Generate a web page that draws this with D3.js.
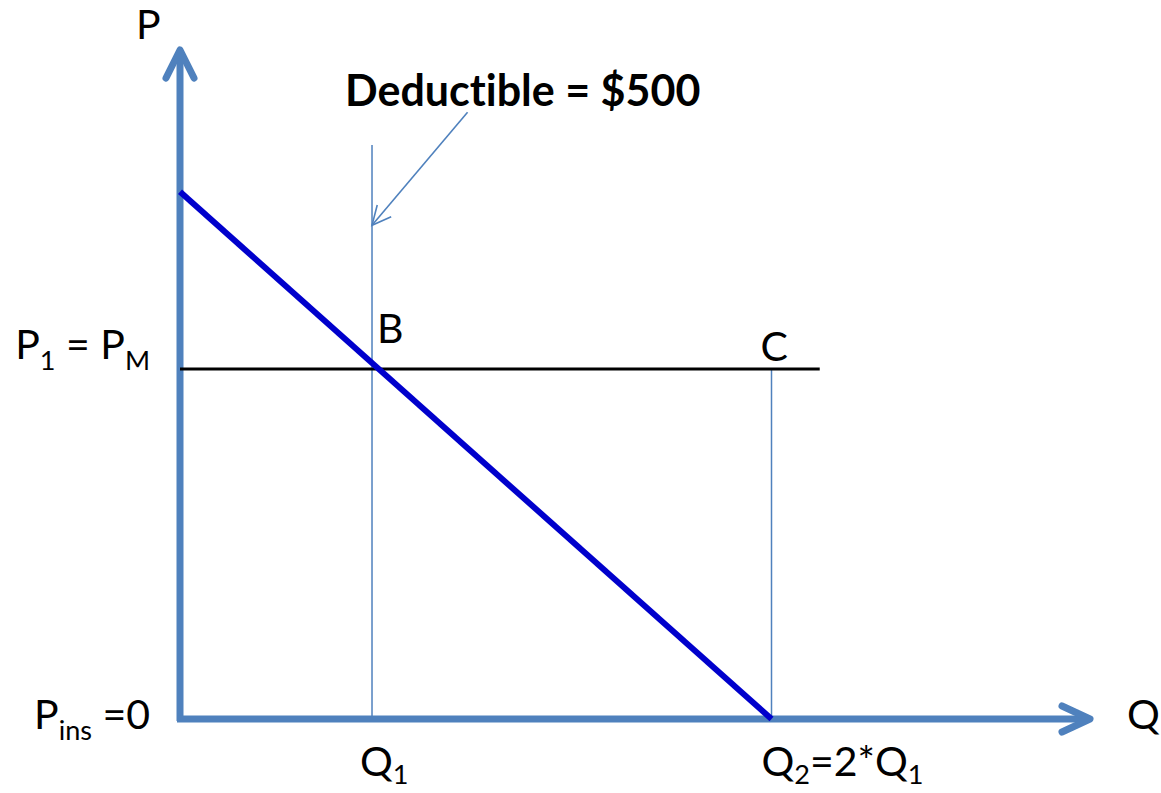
<!DOCTYPE html>
<html><head><meta charset="utf-8">
<script src="https://cdn.jsdelivr.net/npm/d3@7"></script>
<style>html,body{margin:0;padding:0;background:#fff;}svg{display:block;}text{font-variant-ligatures:none;font-feature-settings:"liga" 0;}</style>
</head><body>
<svg id="c" width="1161" height="793"></svg>
<script>
// ---- data (chart units: Q and P on 0..100 scales) ----
const axisMax = {q: 100, p: 100};
const demand = [{q: 0, p: 78.8}, {q: 65.0, p: 0}];
const priceLine = [{q: 0, p: 52.3}, {q: 70.3, p: 52.3}];
const deductibleLine = [{q: 21.1, p: 0}, {q: 21.1, p: 85.8}];
const q2Line = [{q: 65.0, p: 0}, {q: 65.0, p: 52.3}];
const calloutArrow = [{q: 31.6, p: 90.7}, {q: 21.1, p: 73.8}];
const axisLabels = ["P", "Q"];
const pTickLabels = [{p: 52.3, parts: [["P", 0], ["1", 1], [" = P", 0], ["M", 1]]},
                     {p: 0, parts: [["P", 0], ["ins", 1], [" =0", 0]]}];
const qTickLabels = [{q: 21.1, parts: [["Q", 0], ["1", 1]]},
                     {q: 65.0, parts: [["Q", 0], ["2", 1], ["=2*Q", 0], ["1", 1]]}];
const pointLabels = [{name: "B", q: 21.1, p: 52.3}, {name: "C", q: 65.0, p: 52.3}];
const calloutText = "Deductible = $500";

// ---- scales ----
const x = d3.scaleLinear().domain([0, axisMax.q]).range([180, 1090]);
const y = d3.scaleLinear().domain([0, axisMax.p]).range([719, 50]);
const svg = d3.select("#c");
const FONT = "Lato, 'Open Sans', sans-serif";
const AXC = "#4F81BD";
const line = d3.line().x(d => x(d.q)).y(d => y(d.p));

// thin guide lines
svg.append("path").attr("d", line(deductibleLine)).attr("stroke", AXC).attr("stroke-width", 1.5).attr("fill", "none");
svg.append("path").attr("d", line(q2Line)).attr("stroke", AXC).attr("stroke-width", 1.5).attr("fill", "none");

// axes
const axG = svg.append("g").attr("stroke", AXC).attr("stroke-width", 7).attr("fill", "none")
  .attr("stroke-linecap", "round").attr("stroke-linejoin", "round");
axG.append("path").attr("d", `M${x(0)},${y(0)+2}L${x(0)},${y(axisMax.p)}`).attr("stroke-linecap","butt");
axG.append("path").attr("d", `M${x(0)-14},${y(axisMax.p)+28}L${x(0)},${y(axisMax.p)}L${x(0)+14},${y(axisMax.p)+28}`);
axG.append("path").attr("d", `M${x(0)-3},${y(0)}L${x(axisMax.q)},${y(0)}`).attr("stroke-linecap","butt");
axG.append("path").attr("d", `M${x(axisMax.q)-28},${y(0)-13}L${x(axisMax.q)},${y(0)}L${x(axisMax.q)-28},${y(0)+13}`);

// price line
svg.append("path").attr("d", line(priceLine)).attr("stroke", "#000").attr("stroke-width", 3).attr("fill", "none");
// demand
svg.append("path").attr("d", line(demand)).attr("stroke", "#0000CC").attr("stroke-width", 6).attr("fill", "none");

// callout arrow
const a0 = calloutArrow[0], a1 = calloutArrow[1];
svg.append("path").attr("d", line(calloutArrow)).attr("stroke", AXC).attr("stroke-width", 1.6).attr("fill", "none");
const ex = x(a1.q), ey = y(a1.p);
const ang = Math.atan2(y(a0.p) - ey, x(a0.q) - ex);
const hl = 21, hs = 0.45;
svg.append("path")
  .attr("d", `M${ex + hl*Math.cos(ang-hs)},${ey + hl*Math.sin(ang-hs)}L${ex},${ey}L${ex + hl*Math.cos(ang+hs)},${ey + hl*Math.sin(ang+hs)}`)
  .attr("stroke", AXC).attr("stroke-width", 1.6).attr("fill", "none");

// text helpers
const FS = 41;
function rich(g, parts, subDy) {
  const t = g.append("text").attr("font-family", FONT).attr("font-size", FS).attr("fill", "#000");
  let prevSub = 0;
  parts.forEach(([s, sub]) => {
    const ts = t.append("tspan").text(s);
    if (sub) ts.attr("font-size", FS*0.66);
    const dy = (sub - prevSub) * subDy;
    if (dy) ts.attr("dy", dy);
    prevSub = sub;
  });
  return t;
}

// axis labels
svg.append("text").attr("x", 136).attr("y", 39).attr("font-family", FONT).attr("font-size", FS).text(axisLabels[0]);
svg.append("text").attr("x", 1127).attr("y", 729).attr("font-family", FONT).attr("font-size", FS).text(axisLabels[1]);

// p tick labels (right-aligned before axis)
pTickLabels.forEach(d => {
  const t = rich(svg, d.parts, 11);
  const w = t.node().getComputedTextLength();
  t.attr("x", 150 - w).attr("y", d.p === 0 ? y(d.p) + 10 : y(d.p) - 10);
});
// q tick labels
qTickLabels.forEach((d, i) => {
  const t = rich(svg, d.parts, 8);
  t.attr("x", i === 0 ? x(d.q) - 12 : x(d.q) - 10).attr("y", 776);
});
// point labels
svg.append("text").attr("x", x(pointLabels[0].q) + 5).attr("y", y(pointLabels[0].p) - 26)
  .attr("font-family", FONT).attr("font-size", FS).text(pointLabels[0].name);
svg.append("text").attr("x", x(pointLabels[1].q) - 11).attr("y", y(pointLabels[1].p) - 8)
  .attr("font-family", FONT).attr("font-size", FS).text(pointLabels[1].name);

// callout text
svg.append("text").attr("x", 345).attr("y", 106).attr("font-family", FONT).attr("font-weight", "bold")
  .attr("font-size", 43).text(calloutText);
</script>
</body></html>
